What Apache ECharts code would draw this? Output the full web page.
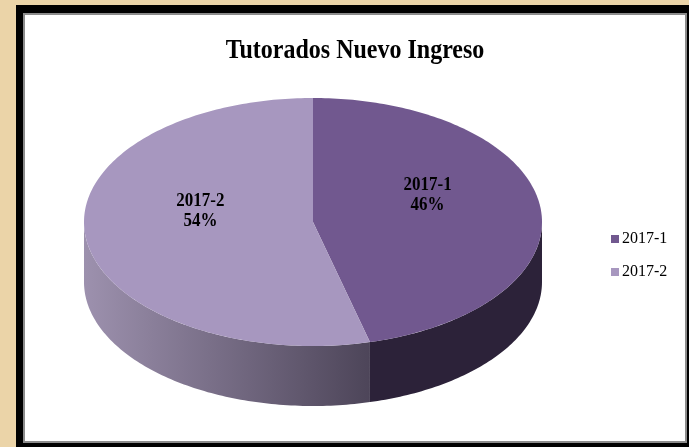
<!DOCTYPE html>
<html>
<head>
<meta charset="utf-8">
<script src="https://cdn.jsdelivr.net/npm/echarts@6/dist/echarts.min.js"></script>
<style>
  html, body { margin: 0; padding: 0; }
  body { width: 689px; height: 447px; background: #EBD4A8; position: relative; overflow: hidden; }
  #frame { position: absolute; left: 16px; top: 5px; width: 700px; height: 460px; background: #000; }
  #panel { position: absolute; left: 23px; top: 13px; width: 664px; height: 430px;
           background: #fff; border: 2px solid #8c8c8c; box-sizing: border-box; }
  #chart { position: absolute; left: 0; top: 0; width: 689px; height: 447px; }
</style>
</head>
<body>
<div id="frame"></div>
<div id="panel"></div>
<div id="chart"></div>
<script>
// Tutorados de nuevo ingreso por periodo
const categories = ['2017-1', '2017-2'];
const shares = [46, 54];
const chartTitle = 'Tutorados Nuevo Ingreso';

const SERIF = '"Liberation Serif", "Times New Roman", serif';
const topColors = ['#71588F', '#A797BF'];
const sideFills = [
  '#2C2239',
  new echarts.graphic.LinearGradient(0, 0, 1, 0, [
    { offset: 0, color: '#9D91AE' },
    { offset: 1, color: '#4D4559' }
  ])
];

// Elliptical pie geometry (top face + extruded rim)
const CX = 313, CY = 222, RX = 229, RY = 124, DEPTH = 60;
const total = shares.reduce((a, b) => a + b, 0);

function pt(theta, dy) {
  return [CX + RX * Math.cos(theta), CY + RY * Math.sin(theta) + (dy || 0)];
}

function arcPoints(a, b, dy) {
  const n = Math.max(2, Math.ceil(Math.abs(b - a) / (Math.PI / 180)));
  const pts = [];
  for (let k = 0; k <= n; k++) pts.push(pt(a + (b - a) * k / n, dy));
  return pts;
}

function makeRender(idx) {
  return function (params, api) {
    const value = api.value(0);
    let before = 0;
    for (let j = 0; j < idx; j++) before += shares[j];
    const a1 = -Math.PI / 2 + before / total * Math.PI * 2;
    const a2 = a1 + value / total * Math.PI * 2;
    const children = [];

    // visible front rim: screen angles between 0 and PI
    const s = Math.max(a1, 0), e = Math.min(a2, Math.PI);
    if (e > s) {
      const rim = arcPoints(s, e, 0).concat(arcPoints(e, s, DEPTH));
      children.push({
        type: 'polygon', z2: 1,
        shape: { points: rim },
        style: { fill: sideFills[idx] }
      });
    }

    // top face
    const face = [[CX, CY]].concat(arcPoints(a1, a2, 0));
    children.push({
      type: 'polygon', z2: 5,
      shape: { points: face },
      style: { fill: topColors[idx] }
    });

    // data label
    const mid = (a1 + a2) / 2;
    const lp = [CX + RX * 0.5 * Math.cos(mid) + 1, CY + RY * 0.5 * Math.sin(mid) - 19];
    children.push({
      type: 'text', z2: 10,
      x: lp[0], y: lp[1],
      scaleY: 1.13,
      style: {
        text: categories[idx] + '\n' + Math.round(value / total * 100) + '%',
        font: 'bold 17px ' + SERIF,
        fill: '#000',
        align: 'center',
        verticalAlign: 'middle',
        lineHeight: 18
      }
    });
    return { type: 'group', children: children };
  };
}

const chart = echarts.init(document.getElementById('chart'), null, { renderer: 'canvas' });
chart.setOption({
  backgroundColor: 'transparent',
  animation: false,
  graphic: [{
    type: 'text',
    x: 355,
    y: 51,
    scaleY: 1.18,
    style: {
      text: chartTitle,
      font: 'bold 24px ' + SERIF,
      fill: '#000',
      align: 'center',
      verticalAlign: 'middle'
    }
  }],
  legend: {
    orient: 'vertical',
    left: 611,
    top: 231,
    padding: 0,
    icon: 'rect',
    itemWidth: 8,
    itemHeight: 8,
    itemGap: 17,
    textStyle: {
      fontFamily: SERIF,
      fontSize: 16,
      color: '#000',
      lineHeight: 16,
      padding: [0, 0, 0, -2]
    },
    data: categories
  },
  series: categories.map((name, i) => ({
    type: 'custom',
    name: name,
    coordinateSystem: 'none',
    color: topColors[i],
    renderItem: makeRender(i),
    data: [[shares[i]]]
  }))
});
</script>
</body>
</html>
